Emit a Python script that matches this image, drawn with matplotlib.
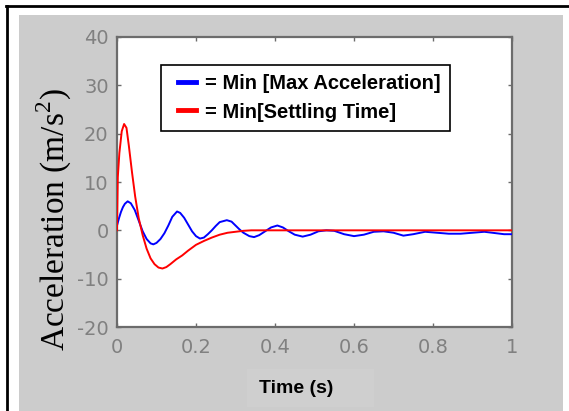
import matplotlib
matplotlib.use("Agg")
import matplotlib.pyplot as plt
from matplotlib.patches import Rectangle
from matplotlib.lines import Line2D
from matplotlib.legend_handler import HandlerLine2D

# ---- data ----
t_blue = [0.000, 0.005, 0.010, 0.015, 0.020, 0.027, 0.035, 0.045, 0.055, 0.065,
          0.075, 0.085, 0.092, 0.100, 0.110, 0.120, 0.130, 0.140, 0.152, 0.160,
          0.170, 0.180, 0.190, 0.200, 0.210, 0.220, 0.230, 0.240, 0.250, 0.260,
          0.278, 0.290, 0.300, 0.310, 0.320, 0.335, 0.347, 0.360, 0.375, 0.390,
          0.406, 0.420, 0.435, 0.450, 0.470, 0.490, 0.510, 0.530, 0.550, 0.575,
          0.600, 0.625, 0.650, 0.675, 0.700, 0.725, 0.750, 0.780, 0.810, 0.840,
          0.870, 0.900, 0.930, 0.960, 0.980, 1.000]
a_blue = [1.0, 2.5, 3.8, 4.8, 5.5, 6.0, 5.6, 4.2, 2.0, -0.2,
          -1.8, -2.7, -2.9, -2.6, -1.8, -0.6, 1.0, 2.8, 3.9, 3.6,
          2.6, 1.2, -0.2, -1.2, -1.7, -1.5, -0.8, 0.0, 0.9, 1.7,
          2.1, 1.8, 1.0, 0.2, -0.5, -1.2, -1.4, -1.0, -0.2, 0.6,
          1.0, 0.6, -0.2, -0.9, -1.3, -0.9, -0.2, 0.0, -0.1, -0.8,
          -1.2, -0.9, -0.3, -0.2, -0.5, -1.1, -0.8, -0.3, -0.5, -0.7,
          -0.7, -0.5, -0.3, -0.6, -0.8, -0.8]

t_red = [0.000, 0.002, 0.006, 0.012, 0.018, 0.024, 0.030, 0.038, 0.046, 0.055,
         0.065, 0.075, 0.085, 0.095, 0.105, 0.115, 0.125, 0.135, 0.150, 0.165,
         0.180, 0.200, 0.220, 0.240, 0.260, 0.280, 0.300, 0.320, 0.340, 1.000]
a_red = [0.0, 11.0, 16.0, 20.5, 22.0, 21.2, 17.5, 12.0, 7.0, 2.5,
         -1.0, -3.8, -5.8, -7.0, -7.7, -7.9, -7.6, -7.0, -6.0, -5.2,
         -4.2, -3.0, -2.2, -1.5, -0.9, -0.5, -0.3, -0.1, 0.0, 0.0]

x_ticks = [0, 0.2, 0.4, 0.6, 0.8, 1]
x_ticklabels = ["0", "0.2", "0.4", "0.6", "0.8", "1"]
y_ticks = [-20, -10, 0, 10, 20, 30, 40]
y_ticklabels = ["-20", "-10", "0", "10", "20", "30", "40"]
label_blue = "= Min [Max Acceleration]"
label_red = "= Min[Settling Time]"

W, H = 569, 411
fig = plt.figure(figsize=(W / 100, H / 100), dpi=100)
fig.patch.set_facecolor("white")

# gray panel and black frame lines
fig.patches.append(Rectangle((19 / W, 0), (563 - 19) / W, 1 - 15 / H,
                             transform=fig.transFigure, facecolor="#cccccc",
                             edgecolor="none", zorder=-2))
fig.add_artist(Line2D([6 / W, 1], [1 - 6 / H, 1 - 6 / H], transform=fig.transFigure,
                      color="black", lw=2.0, zorder=-1))
fig.add_artist(Line2D([7 / W, 7 / W], [0, 1 - 6 / H], transform=fig.transFigure,
                      color="black", lw=2.0, zorder=-1))
# faint box behind x label
fig.patches.append(Rectangle((247 / W, 1 - 407 / H), (374 - 247) / W, (407 - 369) / H,
                             transform=fig.transFigure, facecolor="#cfcfcf",
                             edgecolor="none", zorder=-1))

ax = fig.add_axes([117 / W, 1 - 327 / H, (512 - 117) / W, (327 - 37) / H])
ax.set_zorder(1)
ax.set_facecolor("white")

lb, = ax.plot(t_blue, a_blue, color="#0000ff", lw=1.4, zorder=3)
lr, = ax.plot(t_red, a_red, color="#ff0000", lw=1.4, zorder=4)

ax.set_xlim(0, 1)
ax.set_ylim(-20, 40)
ax.set_xticks(x_ticks)
ax.set_xticklabels(x_ticklabels)
ax.set_yticks(y_ticks)
ax.set_yticklabels(y_ticklabels)

spine_col = "#6c6c6c"
for s in ax.spines.values():
    s.set_color(spine_col)
    s.set_linewidth(1.6)
ax.tick_params(direction="in", length=3.2, width=1, colors=spine_col,
               top=True, right=True, labelsize=14, labelcolor="#808080")
ax.tick_params(axis="x", pad=8)
ax.tick_params(axis="y", pad=6)
for lab in ax.get_xticklabels() + ax.get_yticklabels():
    lab.set_family("DejaVu Sans")

# legend
fs = 14.5
leg_handles = [Line2D([], [], color="#0000ff", lw=3.5),
               Line2D([], [], color="#ff0000", lw=3.5)]
leg = ax.legend(leg_handles, [label_blue, label_red],
                loc="upper left",
                bbox_to_anchor=((161 - 117) / 395, (327 - 65) / 290),
                borderaxespad=0, borderpad=0.47, handlelength=1.27,
                handletextpad=0.45, labelspacing=0.45,
                fancybox=False, framealpha=1, edgecolor="black",
                prop={"family": "Liberation Sans", "weight": "bold", "size": fs},
                handler_map={Line2D: HandlerLine2D(xpad=0.37)})
leg.get_frame().set_linewidth(1.2)

# axis labels
plt.rcParams["mathtext.fontset"] = "custom"
plt.rcParams["mathtext.rm"] = "Liberation Serif"
fig.text(54 / W, 1 - 219.5 / H, r"Acceleration (m/s$^{\mathrm{2}}$)", rotation=90,
         ha="center", va="center", family="Liberation Serif", size=24, color="black")
fig.text(296 / W, 1 - 388 / H, "Time (s)", ha="center", va="center",
         family="Liberation Sans", weight="bold", size=14, color="black")

fig.savefig("out.png", dpi=100)
